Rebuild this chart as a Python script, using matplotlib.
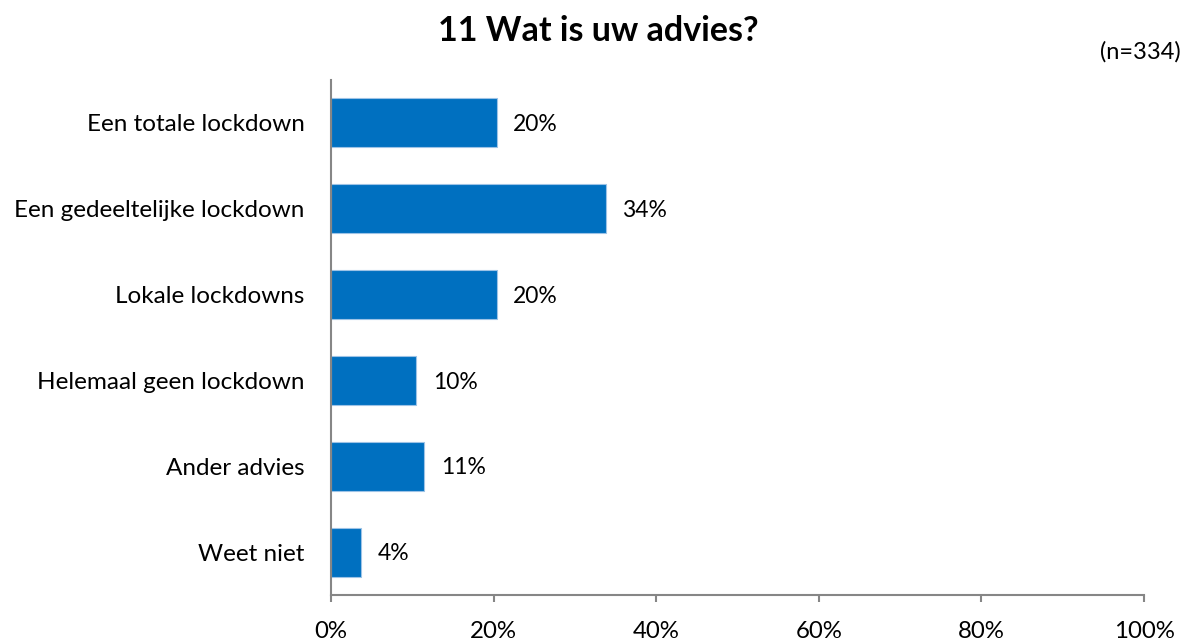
import matplotlib.pyplot as plt
from matplotlib.ticker import FuncFormatter

plt.rcParams['font.family'] = ['Lato', 'DejaVu Sans']

categories = ['Een totale lockdown', 'Een gedeeltelijke lockdown', 'Lokale lockdowns',
              'Helemaal geen lockdown', 'Ander advies', 'Weet niet']
values = [20.4, 33.8, 20.4, 10.5, 11.5, 3.7]
labels = ['20%', '34%', '20%', '10%', '11%', '4%']
ticks = [0, 20, 40, 60, 80, 100]

fig = plt.figure(figsize=(11.91, 6.41), dpi=100)
ax = fig.add_axes([331 / 1191, 1 - 595 / 641, (1144 - 331) / 1191, (595 - 80) / 641])

pos = list(range(len(categories)))
ax.barh(pos, values, height=0.57, color='#0070C0', edgecolor='#9DC3E6', linewidth=0.8)
for p, v, t in zip(pos, values, labels):
    ax.text(v + 2.0, p + 0.02, t, va='center', ha='left', fontsize=16.5, color='black')

ax.set_xlim(0, 100)
ax.set_ylim(len(categories) - 0.5, -0.5)
ax.set_yticks(pos)
ax.set_yticklabels(categories, fontsize=17.5)
ax.set_xticks(ticks)
ax.xaxis.set_major_formatter(FuncFormatter(lambda x, _: f'{x:.0f}%'))
ax.tick_params(axis='x', labelsize=17.3, length=5, width=1.5, color='#868686', pad=14)
ax.tick_params(axis='y', length=0, pad=19)

for s in ['top', 'right']:
    ax.spines[s].set_visible(False)
for s in ['left', 'bottom']:
    ax.spines[s].set_color('#868686')
    ax.spines[s].set_linewidth(1.5)

fig.text(598 / 1191, 1 - 31 / 641, '11 Wat is uw advies?', ha='center', va='center',
         fontsize=24.5, fontweight='bold')
fig.text(1181 / 1191, 1 - 52 / 641, '(n=334)', ha='right', va='center', fontsize=17)

fig.savefig('out.png', dpi=100)
